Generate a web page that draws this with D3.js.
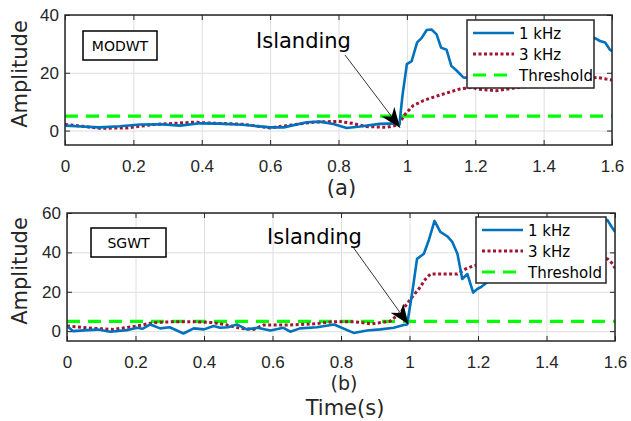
<!DOCTYPE html>
<html>
<head>
<meta charset="utf-8">
<script src="https://cdn.jsdelivr.net/npm/d3@7"></script>
<style>
  body { margin: 0; background: #fff; }
  svg { font-family: "DejaVu Sans", Verdana, sans-serif; }
  .grid line { stroke: #dedede; stroke-width: 1; }
  .grid path { stroke: none; }
  .axis path { stroke: none; }
  .axis line { stroke: #262626; }
  .axis text { fill: #262626; font-size: 17px; }
</style>
</head>
<body>
<div id="vis"></div>
<script>
const FRAME_WIDTH = 631;
const FRAME_HEIGHT = 421;

const xTicks = [0, 0.2, 0.4, 0.6, 0.8, 1, 1.2, 1.4, 1.6];
const yTicksA = [0, 20, 40];
const yTicksB = [0, 20, 40, 60];
const seriesNames = ["1 kHz", "3 kHz", "Threshold"];
const thresholdValue = 5;

// (a) MODWT  -- [time, amplitude]
const modwt1k = [[0,1.7],[0.05,1.4],[0.10,1.1],[0.16,1.5],[0.22,2.1],[0.28,2.2],[0.336,1.7],[0.395,2.5],
  [0.45,2.4],[0.52,2.0],[0.60,1.1],[0.64,1.1],[0.707,2.9],[0.745,3.1],[0.785,2.3],[0.824,0.9],[0.863,1.4],
  [0.92,2.3],[0.97,2.5],[0.978,2.0],[0.987,12],[1.0,23],[1.014,24],[1.03,30.5],[1.043,32],[1.058,34.8],
  [1.072,35],[1.087,33.3],[1.10,28.7],[1.116,28],[1.13,22.4],[1.146,20.7],[1.165,18.4],[1.19,18],
  [1.25,20],[1.3,23],[1.35,26],[1.4,28],[1.45,30],[1.5,31],[1.55,32],[1.565,31],[1.58,30.5],[1.594,28],[1.6,27.5]];
const modwt3k = [[0,2.1],[0.05,1.5],[0.10,0.8],[0.18,0.9],[0.26,2.1],[0.32,2.5],[0.375,2.9],[0.44,2.5],
  [0.52,2.2],[0.60,0.9],[0.648,1.7],[0.726,2.9],[0.80,3.2],[0.84,2.5],[0.88,1.4],[0.94,1.1],[0.975,2.0],
  [0.98,2.9],[0.995,5.7],[1.018,8.6],[1.047,10.3],[1.076,11.5],[1.116,13],[1.155,14.4],[1.193,15],
  [1.204,14.4],[1.262,13.8],[1.3,14.5],[1.4,16],[1.5,17.5],[1.555,18.4],[1.584,17.8],[1.6,17.5]];

// (b) SGWT
const sgwt1k = [[0,2.6],[0.018,0],[0.06,0.5],[0.09,0.8],[0.126,-0.3],[0.175,0.5],[0.204,1.7],[0.22,1.2],
  [0.243,3.4],[0.272,1.4],[0.30,2],[0.34,-1.2],[0.37,1.4],[0.40,0.9],[0.428,2.6],[0.447,1.7],[0.47,2],
  [0.496,3.4],[0.525,0.9],[0.555,1.7],[0.594,0.3],[0.632,1.7],[0.652,-0.3],[0.68,1.4],[0.73,2],[0.78,3.4],
  [0.837,-0.9],[0.876,0.3],[0.915,0.9],[0.954,1.7],[0.983,3.1],[0.993,3.4],[1.008,19.6],[1.022,36.7],
  [1.042,39.3],[1.056,46],[1.073,56],[1.09,50.4],[1.11,48.2],[1.125,45.3],[1.14,39.3],[1.154,26.5],
  [1.169,29],[1.186,19.6],[1.198,21.4],[1.21,22.5],[1.25,28],[1.3,35],[1.35,42],[1.4,48],[1.45,52],
  [1.5,55],[1.55,57],[1.578,56.4],[1.59,53],[1.6,50.5]];
const sgwt3k = [[0,2.6],[0.077,1.4],[0.135,0.9],[0.204,2.6],[0.252,4.3],[0.31,4.8],[0.37,4.8],[0.428,4.3],
  [0.467,3.1],[0.506,1.4],[0.545,0.9],[0.574,3.1],[0.64,3.1],[0.72,3.7],[0.78,4.8],[0.837,4.8],[0.89,3.7],
  [0.935,4.8],[0.944,5.1],[0.974,9.4],[1.003,16.3],[1.027,21.4],[1.047,26.5],[1.061,29],[1.11,29],
  [1.14,29],[1.164,31.6],[1.188,33.3],[1.25,35],[1.35,36],[1.45,37],[1.55,37.5],[1.578,36.7],[1.593,34.2],[1.6,32]];

const COLORS = {k1: "#0072BD", k3: "#A2142F", th: "#00FF00"};

const SVG = d3.select("#vis").append("svg")
  .attr("width", FRAME_WIDTH)
  .attr("height", FRAME_HEIGHT);

// arrow head (matlab-ish, notched back)
SVG.append("defs").append("marker")
  .attr("id", "head")
  .attr("viewBox", "0 0 20 16")
  .attr("refX", 20).attr("refY", 8)
  .attr("markerWidth", 20).attr("markerHeight", 16)
  .attr("markerUnits", "userSpaceOnUse")
  .attr("orient", "auto")
  .append("path")
    .attr("d", "M0,0 L20,8 L0,16 L6,8 Z")
    .attr("fill", "#000");

function drawPanel(p) {
  const W = p.right - p.left, H = p.bottom - p.top;
  const X = d3.scaleLinear().domain([0, 1.6]).range([0, W]);
  const Y = d3.scaleLinear().domain(p.yDomain).range([H, 0]);
  const g = SVG.append("g").attr("transform", `translate(${p.left},${p.top})`);

  g.append("clipPath").attr("id", "clip" + p.id)
    .append("rect").attr("width", W).attr("height", H);

  // grid
  g.append("g").attr("class", "grid").attr("transform", `translate(0,${H})`)
    .call(d3.axisBottom(X).tickValues(xTicks).tickSize(-H).tickFormat(""));
  g.append("g").attr("class", "grid")
    .call(d3.axisLeft(Y).tickValues(p.yTicks).tickSize(-W).tickFormat(""));

  // lines
  const line = d3.line().x(d => X(d[0])).y(d => Y(d[1])).curve(d3.curveLinear);
  const lines = g.append("g").attr("clip-path", `url(#clip${p.id})`);
  lines.append("path").datum([[0, thresholdValue], [1.6, thresholdValue]])
    .attr("d", line).attr("fill", "none").attr("stroke", COLORS.th)
    .attr("stroke-width", 3.2).attr("stroke-dasharray", "13,8");
  lines.append("path").datum(p.s3)
    .attr("d", line).attr("fill", "none").attr("stroke", COLORS.k3)
    .attr("stroke-width", 3).attr("stroke-dasharray", "3,2.5");
  lines.append("path").datum(p.s1)
    .attr("d", line).attr("fill", "none").attr("stroke", COLORS.k1)
    .attr("stroke-width", 2.6).attr("stroke-linejoin", "round");

  // axes with inward ticks
  g.append("g").attr("class", "axis").attr("transform", `translate(0,${H})`)
    .call(d3.axisBottom(X).tickValues(xTicks).tickSize(-5).tickPadding(15).tickFormat(d3.format("")));
  g.append("g").attr("class", "axis")
    .call(d3.axisTop(X).tickValues(xTicks).tickSize(-5).tickFormat(""));
  g.append("g").attr("class", "axis")
    .call(d3.axisLeft(Y).tickValues(p.yTicks).tickSize(-5).tickPadding(6));
  g.append("g").attr("class", "axis").attr("transform", `translate(${W},0)`)
    .call(d3.axisRight(Y).tickValues(p.yTicks).tickSize(-5).tickFormat(""));

  g.append("rect").attr("width", W).attr("height", H)
    .attr("fill", "none").attr("stroke", "#262626").attr("stroke-width", 1.5);

  // method box
  g.append("rect").attr("x", p.tag.x).attr("y", p.tag.y).attr("width", p.tag.w).attr("height", 29)
    .attr("fill", "#fff").attr("stroke", "#000").attr("stroke-width", 1.5);
  g.append("text").attr("x", p.tag.x + p.tag.w / 2).attr("y", p.tag.y + 20)
    .attr("text-anchor", "middle").attr("font-size", 14).attr("fill", "#000").text(p.tag.label);

  // annotation
  g.append("text").attr("x", p.note.tx).attr("y", p.note.ty)
    .attr("font-size", 21).attr("fill", "#000").text("Islanding");
  g.append("line")
    .attr("x1", p.note.ax).attr("y1", p.note.ay)
    .attr("x2", X(p.note.t)).attr("y2", Y(p.note.v))
    .attr("stroke", "#000").attr("stroke-width", 0.8)
    .attr("marker-end", "url(#head)");

  // legend
  const L = p.legend;
  const lg = g.append("g").attr("transform", `translate(${L.x},${L.y})`);
  lg.append("rect").attr("width", L.w).attr("height", L.h)
    .attr("fill", "#fff").attr("stroke", "#262626").attr("stroke-width", 1.5);
  const styles = [
    {c: COLORS.k1, w: 2.6, dash: null},
    {c: COLORS.k3, w: 3, dash: "3,2.5"},
    {c: COLORS.th, w: 3.2, dash: "13,8"}
  ];
  seriesNames.forEach((name, i) => {
    const yy = 13 + i * 21;
    lg.append("line").attr("x1", 6).attr("x2", 47).attr("y1", yy).attr("y2", yy)
      .attr("stroke", styles[i].c).attr("stroke-width", styles[i].w)
      .attr("stroke-dasharray", styles[i].dash);
    lg.append("text").attr("x", 52).attr("y", yy + 5.5)
      .attr("font-size", 15).attr("fill", "#000").text(name);
  });

  // y label
  SVG.append("text")
    .attr("transform", `translate(27,${p.top + H / 2 - 6}) rotate(-90)`)
    .attr("text-anchor", "middle").attr("font-size", 21).attr("fill", "#262626")
    .text("Amplitude");

  SVG.append("text").attr("x", p.left + W / 2 + 3).attr("y", p.capY)
    .attr("text-anchor", "middle").attr("font-size", p.capSize).attr("fill", "#262626")
    .text(p.caption);
}

drawPanel({
  id: "a", left: 65, right: 612, top: 15, bottom: 145,
  yDomain: [-5, 40], yTicks: yTicksA, s1: modwt1k, s3: modwt3k,
  tag: {x: 18, y: 16, w: 74, label: "MODWT"},
  note: {tx: 191, ty: 33, ax: 280, ay: 40, t: 0.98, v: 1.0},
  legend: {x: 402, y: 5, w: 127, h: 68},
  caption: "(a)", capY: 195, capSize: 21
});

drawPanel({
  id: "b", left: 67, right: 615, top: 213, bottom: 341,
  yDomain: [-5, 60], yTicks: yTicksB, s1: sgwt1k, s3: sgwt3k,
  tag: {x: 24, y: 15, w: 75, label: "SGWT"},
  note: {tx: 200, ty: 31, ax: 286, ay: 34, t: 0.997, v: 3.5},
  legend: {x: 409, y: 4, w: 130, h: 66},
  caption: "(b)", capY: 390, capSize: 19
});

SVG.append("text").attr("x", 345).attr("y", 415)
  .attr("text-anchor", "middle").attr("font-size", 21).attr("fill", "#262626")
  .text("Time(s)");
</script>
</body>
</html>
